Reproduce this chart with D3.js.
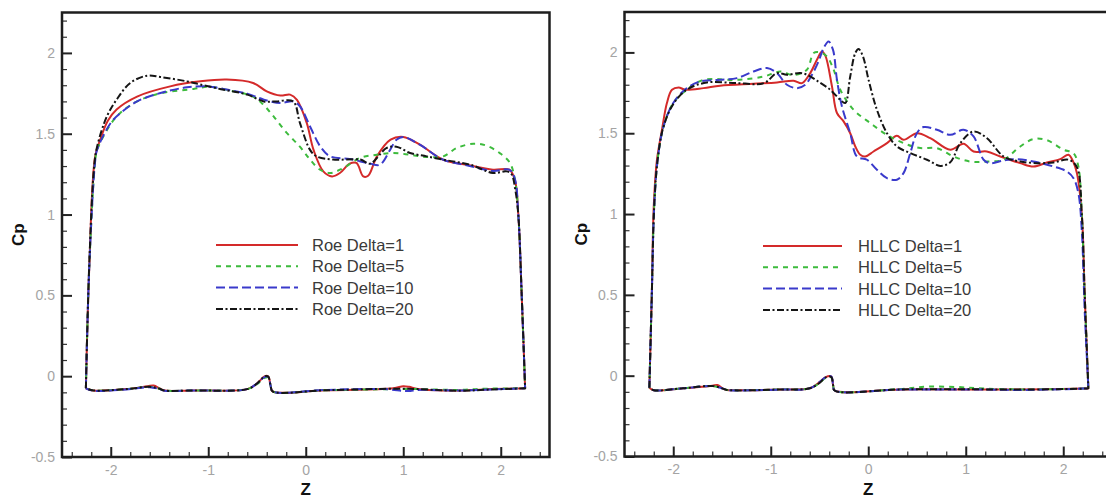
<!DOCTYPE html>
<html>
<head>
<meta charset="utf-8">
<script src="https://cdn.jsdelivr.net/npm/d3@7"></script>
<style>
  html, body { margin: 0; padding: 0; background: #fff; }
  svg { display: block; }
  text { font-family: "Liberation Sans", Arial, Helvetica, sans-serif; }
</style>
</head>
<body>
<svg id="chart" width="1106" height="498"></svg>
<script>
// ---------- data ----------
const xMajorTicks = [-2, -1, 0, 1, 2];
const yMajorTicks = [-0.5, 0, 0.5, 1, 1.5, 2];
const xTickLabels = ["-2", "-1", "0", "1", "2"];
const yTickLabels = ["-0.5", "0", "0.5", "1", "1.5", "2"];

const roeNames  = ["Roe Delta=1", "Roe Delta=5", "Roe Delta=10", "Roe Delta=20"];
const hllcNames = ["HLLC Delta=1", "HLLC Delta=5", "HLLC Delta=10", "HLLC Delta=20"];

// Left panel (Roe) - upper surface, traced left to right (includes end corners)
const roe1Upper = [[-2.255,-0.075],[-2.22,0.68],[-2.16,1.36],[-2.11,1.46],[-2.03,1.58],[-1.94,1.65],[-1.73,1.73],[-1.39,1.793],[-1.08,1.824],[-0.81,1.835],[-0.54,1.814],[-0.40,1.762],[-0.26,1.736],[-0.16,1.742],[-0.09,1.71],[0.01,1.567],[0.08,1.40],[0.18,1.267],[0.27,1.236],[0.35,1.257],[0.45,1.315],[0.52,1.319],[0.59,1.236],[0.64,1.24],[0.73,1.36],[0.87,1.463],[1.0,1.48],[1.17,1.432],[1.41,1.339],[1.65,1.308],[1.92,1.277],[2.09,1.277],[2.145,1.215],[2.18,1.0],[2.215,0.5],[2.25,-0.075]];
const roe5Upper = [[-2.255,-0.075],[-2.22,0.68],[-2.16,1.33],[-2.14,1.40],[-2.0,1.56],[-1.9,1.63],[-1.73,1.70],[-1.49,1.75],[-1.15,1.777],[-1.0,1.79],[-0.74,1.762],[-0.54,1.73],[-0.435,1.68],[-0.33,1.607],[-0.195,1.505],[-0.06,1.42],[0.044,1.34],[0.147,1.277],[0.25,1.257],[0.386,1.288],[0.557,1.35],[0.728,1.37],[0.90,1.38],[1.07,1.37],[1.24,1.356],[1.41,1.36],[1.55,1.412],[1.72,1.438],[1.855,1.426],[1.99,1.38],[2.095,1.319],[2.15,1.2],[2.18,1.0],[2.215,0.5],[2.25,-0.075]];
const roe10Upper = [[-2.255,-0.075],[-2.22,0.68],[-2.16,1.33],[-2.14,1.40],[-2.0,1.567],[-1.9,1.628],[-1.73,1.70],[-1.49,1.752],[-1.22,1.787],[-1.0,1.793],[-0.81,1.773],[-0.6,1.748],[-0.43,1.711],[-0.26,1.69],[-0.13,1.70],[-0.06,1.67],[0.044,1.545],[0.15,1.42],[0.25,1.36],[0.45,1.344],[0.66,1.315],[0.76,1.308],[0.865,1.40],[0.93,1.463],[1.0,1.48],[1.17,1.432],[1.41,1.339],[1.65,1.305],[1.92,1.27],[2.09,1.277],[2.145,1.22],[2.18,1.0],[2.215,0.5],[2.25,-0.075]];
const roe20Upper = [[-2.255,-0.075],[-2.22,0.7],[-2.17,1.3],[-2.14,1.42],[-2.04,1.607],[-1.94,1.711],[-1.80,1.814],[-1.63,1.859],[-1.49,1.851],[-1.22,1.824],[-1.08,1.804],[-0.88,1.777],[-0.6,1.742],[-0.43,1.70],[-0.30,1.70],[-0.13,1.70],[-0.06,1.567],[0.044,1.40],[0.11,1.36],[0.28,1.34],[0.56,1.34],[0.66,1.315],[0.83,1.412],[0.93,1.42],[1.07,1.381],[1.24,1.36],[1.45,1.335],[1.69,1.308],[1.92,1.257],[2.06,1.267],[2.11,1.25],[2.15,1.15],[2.18,1.0],[2.215,0.5],[2.25,-0.075]];

// Left panel (Roe) - lower surface, left to right
const roe1Lower = [[-2.255,-0.075],[-2.18,-0.088],[-1.84,-0.08],[-1.62,-0.062],[-1.56,-0.058],[-1.5,-0.075],[-1.45,-0.089],[-1.15,-0.088],[-0.6,-0.08],[-0.5,-0.045],[-0.42,0.0],[-0.385,-0.002],[-0.36,-0.06],[-0.34,-0.094],[0.2,-0.087],[0.9,-0.075],[1.0,-0.062],[1.06,-0.066],[1.15,-0.08],[1.58,-0.089],[1.92,-0.08],[2.25,-0.075]];
const roe5Lower = [[-2.255,-0.075],[-2.18,-0.088],[-1.84,-0.08],[-1.6,-0.066],[-1.5,-0.078],[-1.45,-0.089],[-1.15,-0.088],[-0.6,-0.08],[-0.5,-0.05],[-0.42,-0.01],[-0.385,-0.008],[-0.36,-0.06],[-0.34,-0.094],[0.2,-0.087],[0.9,-0.08],[1.15,-0.08],[1.58,-0.085],[1.8,-0.078],[2.25,-0.075]];
const roe10Lower = [[-2.255,-0.075],[-2.18,-0.09],[-1.84,-0.082],[-1.6,-0.068],[-1.5,-0.08],[-1.45,-0.09],[-1.15,-0.088],[-0.6,-0.08],[-0.5,-0.045],[-0.42,-0.004],[-0.385,-0.004],[-0.36,-0.06],[-0.34,-0.094],[0.2,-0.085],[0.8,-0.08],[1.05,-0.092],[1.15,-0.085],[1.58,-0.089],[1.92,-0.082],[2.25,-0.075]];
const roe20Lower = [[-2.255,-0.075],[-2.18,-0.088],[-1.84,-0.08],[-1.6,-0.066],[-1.5,-0.078],[-1.45,-0.089],[-1.15,-0.088],[-0.6,-0.08],[-0.5,-0.045],[-0.42,0.0],[-0.385,-0.002],[-0.36,-0.06],[-0.34,-0.094],[0.2,-0.087],[0.9,-0.078],[1.15,-0.08],[1.58,-0.09],[1.92,-0.082],[2.25,-0.075]];

// Right panel (HLLC) - upper surface
const hllc1Upper = [[-2.245,-0.075],[-2.22,0.5],[-2.20,1.046],[-2.167,1.336],[-2.116,1.52],[-2.065,1.687],[-2.013,1.769],[-1.945,1.783],[-1.877,1.769],[-1.689,1.779],[-1.52,1.794],[-1.176,1.806],[-0.936,1.814],[-0.766,1.825],[-0.68,1.81],[-0.595,1.872],[-0.526,1.955],[-0.475,2.006],[-0.44,1.98],[-0.372,1.79],[-0.321,1.625],[-0.253,1.573],[-0.185,1.50],[-0.133,1.418],[-0.082,1.367],[-0.031,1.356],[0.054,1.387],[0.192,1.439],[0.294,1.484],[0.362,1.459],[0.499,1.50],[0.636,1.47],[0.841,1.398],[0.977,1.435],[1.08,1.387],[1.216,1.387],[1.354,1.356],[1.559,1.315],[1.695,1.294],[1.832,1.319],[1.969,1.34],[2.054,1.367],[2.105,1.32],[2.14,1.253],[2.19,1.0],[2.22,0.5],[2.257,-0.075]];
const hllc5Upper = [[-2.245,-0.075],[-2.22,0.5],[-2.195,1.05],[-2.16,1.336],[-2.1,1.54],[-2.0,1.687],[-1.86,1.77],[-1.689,1.83],[-1.347,1.83],[-1.07,1.851],[-0.903,1.882],[-0.766,1.86],[-0.629,1.893],[-0.56,1.996],[-0.496,2.0],[-0.424,1.975],[-0.355,1.893],[-0.287,1.769],[-0.15,1.645],[0.02,1.563],[0.192,1.49],[0.362,1.439],[0.533,1.408],[0.704,1.408],[0.875,1.356],[1.046,1.325],[1.216,1.325],[1.388,1.336],[1.559,1.418],[1.695,1.464],[1.832,1.457],[2.003,1.398],[2.105,1.377],[2.155,1.294],[2.19,1.0],[2.22,0.5],[2.257,-0.075]];
const hllc10Upper = [[-2.245,-0.075],[-2.22,0.5],[-2.195,1.05],[-2.16,1.336],[-2.1,1.542],[-2.0,1.687],[-1.86,1.779],[-1.723,1.82],[-1.518,1.831],[-1.347,1.841],[-1.176,1.882],[-1.039,1.903],[-0.936,1.872],[-0.834,1.80],[-0.73,1.779],[-0.646,1.80],[-0.577,1.862],[-0.51,1.944],[-0.458,2.027],[-0.407,2.068],[-0.362,2.017],[-0.321,1.831],[-0.27,1.666],[-0.185,1.50],[-0.116,1.356],[-0.013,1.336],[0.089,1.274],[0.192,1.222],[0.294,1.212],[0.362,1.253],[0.431,1.377],[0.499,1.50],[0.567,1.538],[0.704,1.521],[0.841,1.49],[0.977,1.521],[1.08,1.48],[1.183,1.336],[1.25,1.315],[1.388,1.331],[1.52,1.34],[1.695,1.325],[1.9,1.294],[2.037,1.263],[2.105,1.222],[2.155,1.13],[2.19,0.9],[2.22,0.4],[2.257,-0.075]];
const hllc20Upper = [[-2.245,-0.075],[-2.22,0.5],[-2.195,1.05],[-2.16,1.336],[-2.1,1.54],[-2.0,1.68],[-1.86,1.77],[-1.655,1.814],[-1.347,1.81],[-1.07,1.81],[-0.936,1.872],[-0.834,1.862],[-0.697,1.872],[-0.629,1.862],[-0.526,1.825],[-0.39,1.769],[-0.287,1.707],[-0.236,1.687],[-0.185,1.851],[-0.133,1.996],[-0.099,2.021],[-0.054,1.975],[0.003,1.831],[0.089,1.645],[0.192,1.50],[0.294,1.418],[0.431,1.377],[0.602,1.336],[0.738,1.298],[0.841,1.32],[0.944,1.439],[1.08,1.511],[1.216,1.47],[1.388,1.356],[1.559,1.325],[1.764,1.315],[1.9,1.319],[2.054,1.336],[2.14,1.29],[2.19,1.0],[2.22,0.5],[2.257,-0.075]];

// Right panel (HLLC) - lower surface
const hllc1Lower = [[-2.245,-0.075],[-2.2,-0.09],[-1.9,-0.078],[-1.6,-0.062],[-1.545,-0.058],[-1.49,-0.08],[-1.45,-0.088],[-0.9,-0.085],[-0.6,-0.078],[-0.5,-0.04],[-0.44,-0.01],[-0.38,-0.005],[-0.36,-0.06],[-0.345,-0.092],[0.33,-0.085],[1.0,-0.085],[1.6,-0.085],[2.2,-0.08],[2.257,-0.078]];
const hllc5Lower = [[-2.245,-0.075],[-2.2,-0.09],[-1.9,-0.078],[-1.6,-0.064],[-1.49,-0.08],[-1.45,-0.088],[-0.9,-0.085],[-0.6,-0.078],[-0.5,-0.045],[-0.44,-0.015],[-0.38,-0.01],[-0.36,-0.06],[-0.345,-0.092],[0.33,-0.082],[0.6,-0.068],[0.9,-0.07],[1.2,-0.08],[1.6,-0.085],[2.2,-0.08],[2.257,-0.078]];
const hllc10Lower = [[-2.245,-0.075],[-2.2,-0.09],[-1.9,-0.078],[-1.6,-0.064],[-1.49,-0.08],[-1.45,-0.088],[-0.9,-0.086],[-0.6,-0.078],[-0.5,-0.04],[-0.44,-0.01],[-0.38,-0.004],[-0.36,-0.06],[-0.345,-0.092],[0.33,-0.086],[1.0,-0.085],[1.6,-0.088],[2.2,-0.08],[2.257,-0.078]];
const hllc20Lower = [[-2.245,-0.075],[-2.2,-0.09],[-1.9,-0.078],[-1.6,-0.064],[-1.49,-0.08],[-1.45,-0.088],[-0.9,-0.085],[-0.6,-0.078],[-0.5,-0.045],[-0.44,-0.012],[-0.38,-0.008],[-0.36,-0.06],[-0.345,-0.092],[0.33,-0.085],[1.0,-0.084],[1.6,-0.086],[2.2,-0.08],[2.257,-0.078]];

// ---------- styles ----------
const seriesColors = ["#d42a2a", "#3dbb3d", "#3a3acb", "#151515"];
const seriesDash   = [null, "5,5", "9,4", "7,2.5,2,2.5"];

// ---------- drawing ----------
const svg = d3.select("#chart");
const yDomain = [-0.5, 2.25];
const xDomain = [-2.5, 2.5];

function drawPanel(cfg) {
  const x = d3.scaleLinear().domain(xDomain).range([cfg.left, cfg.right]);
  const y = d3.scaleLinear().domain(yDomain).range([cfg.bottom, cfg.top]);
  const g = svg.append("g");

  const clipId = "clip" + cfg.id;
  g.append("clipPath").attr("id", clipId).append("rect")
    .attr("x", cfg.left).attr("y", cfg.top)
    .attr("width", cfg.right - cfg.left).attr("height", cfg.bottom - cfg.top);

  // minor ticks
  const yMinor = d3.range(-5, 23).map(d => d / 10).filter(v => !yMajorTicks.some(m => Math.abs(m - v) < 1e-9));
  const xMinor = d3.range(-12, 13).map(d => d / 5).filter(v => !xMajorTicks.some(m => Math.abs(m - v) < 1e-9));

  const yMinAxis = g.append("g").attr("transform", `translate(${cfg.left},0)`)
    .call(d3.axisLeft(y).tickValues(yMinor).tickSize(-5).tickFormat(""));
  const xMinAxis = g.append("g").attr("transform", `translate(0,${cfg.bottom})`)
    .call(d3.axisBottom(x).tickValues(xMinor).tickSize(-5).tickFormat(""));
  [yMinAxis, xMinAxis].forEach(a => {
    a.select(".domain").remove();
    a.selectAll("line").attr("stroke", "#333").attr("stroke-width", 1.2);
  });

  const yAxis = g.append("g").attr("transform", `translate(${cfg.left},0)`)
    .call(d3.axisLeft(y).tickValues(yMajorTicks).tickSize(-10).tickPadding(7)
      .tickFormat((d, i) => yTickLabels[i]));
  const xAxis = g.append("g").attr("transform", `translate(0,${cfg.bottom})`)
    .call(d3.axisBottom(x).tickValues(xMajorTicks).tickSize(-10).tickPadding(8)
      .tickFormat((d, i) => xTickLabels[i]));
  [yAxis, xAxis].forEach(a => {
    a.select(".domain").remove();
    a.selectAll("line").attr("stroke", "#222").attr("stroke-width", 2);
    a.selectAll("text").attr("fill", "#a4a4a4").style("font-size", "14px")
      .style("font-family", "'Liberation Sans', Arial, sans-serif");
  });

  // curves
  const line = d3.line().x(d => x(d[0])).y(d => y(d[1])).curve(d3.curveCatmullRom.alpha(0.5));
  const curves = g.append("g").attr("clip-path", `url(#${clipId})`);
  cfg.uppers.forEach((up, i) => {
    const loop = up.concat(cfg.lowers[i].slice().reverse());
    curves.append("path")
      .attr("d", line(loop))
      .attr("fill", "none")
      .attr("stroke", seriesColors[i])
      .attr("stroke-width", 2)
      .attr("stroke-linejoin", "round")
      .attr("stroke-dasharray", seriesDash[i]);
  });

  // frame
  g.append("rect")
    .attr("x", cfg.left).attr("y", cfg.top)
    .attr("width", cfg.right - cfg.left).attr("height", cfg.bottom - cfg.top)
    .attr("fill", "none").attr("stroke", "#1e1e1e").attr("stroke-width", 2.5);

  // legend
  const lg = g.append("g");
  cfg.names.forEach((name, i) => {
    const ly = cfg.legendY + i * 21.3;
    lg.append("line")
      .attr("x1", cfg.legendX).attr("x2", cfg.legendX + cfg.legendLen)
      .attr("y1", ly).attr("y2", ly)
      .attr("stroke", seriesColors[i]).attr("stroke-width", 2)
      .attr("stroke-dasharray", seriesDash[i]);
    lg.append("text")
      .attr("x", cfg.legendX + cfg.legendLen + cfg.legendGap).attr("y", ly + 6)
      .attr("fill", "#3a3a3a").style("font-size", "16.5px")
      .text(name);
  });

  // axis titles
  g.append("text")
    .attr("x", (cfg.left + x(0)) / 2 * 0 + x(0)).attr("y", 495)
    .attr("text-anchor", "middle").attr("font-weight", "bold")
    .style("font-size", "17px").attr("fill", "#111").text("Z");
  g.append("text")
    .attr("transform", `translate(${cfg.cpX},${(cfg.top + cfg.bottom) / 2}) rotate(-90)`)
    .attr("text-anchor", "middle").attr("font-weight", "bold")
    .style("font-size", "17px").attr("fill", "#111").text("Cp");
}

drawPanel({
  id: "L", left: 62, right: 549.5, top: 12.5, bottom: 457,
  uppers: [roe1Upper, roe5Upper, roe10Upper, roe20Upper],
  lowers: [roe1Lower, roe5Lower, roe10Lower, roe20Lower],
  names: roeNames, legendX: 216, legendLen: 82, legendGap: 14, legendY: 245, cpX: 23.5
});
drawPanel({
  id: "R", left: 624.5, right: 1112, top: 12, bottom: 456.5,
  uppers: [hllc1Upper, hllc5Upper, hllc10Upper, hllc20Upper],
  lowers: [hllc1Lower, hllc5Lower, hllc10Lower, hllc20Lower],
  names: hllcNames, legendX: 763, legendLen: 79, legendGap: 16, legendY: 246, cpX: 587
});
</script>
</body>
</html>
